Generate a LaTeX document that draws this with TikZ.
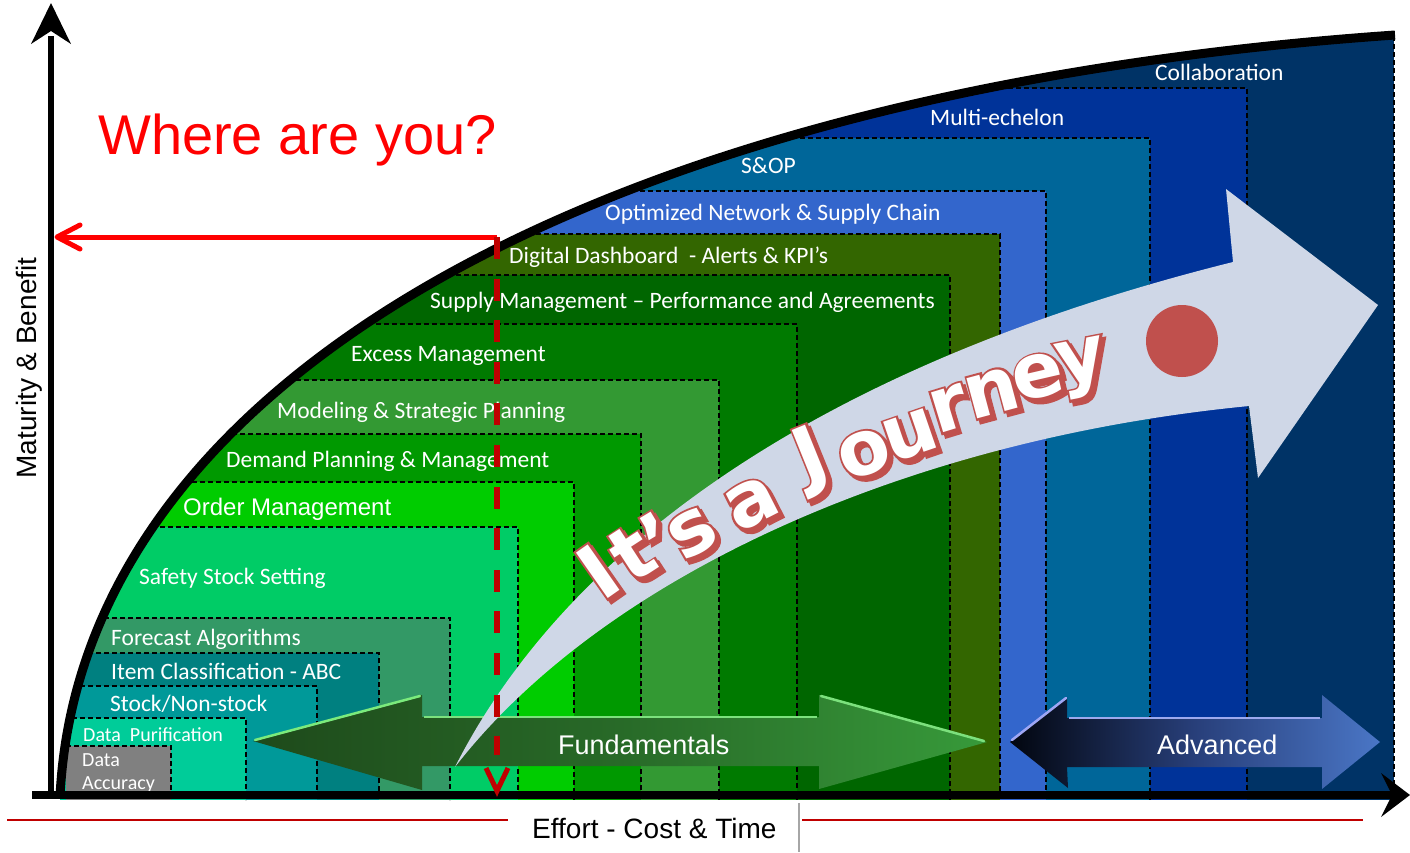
\documentclass[tikz,border=0pt]{standalone}
\usepackage{fontspec}
\setmainfont{Liberation Sans}
\newfontfamily\calib{Carlito}
\newfontface\jfontW{DejaVu Sans Bold}
\newfontface\jfontO{DejaVu Sans Bold}[FakeBold=6]
\definecolor{cCollab}{HTML}{003366}
\definecolor{cMulti}{HTML}{003399}
\definecolor{cSop}{HTML}{006699}
\definecolor{cOpt}{HTML}{3366CC}
\definecolor{cDig}{HTML}{336600}
\definecolor{cSup}{HTML}{006600}
\definecolor{cExc}{HTML}{007A00}
\definecolor{cMod}{HTML}{339933}
\definecolor{cDem}{HTML}{009900}
\definecolor{cOrd}{HTML}{00CC00}
\definecolor{cSaf}{HTML}{00CC66}
\definecolor{cFor}{HTML}{339966}
\definecolor{cItem}{HTML}{008080}
\definecolor{cStock}{HTML}{009999}
\definecolor{cPur}{HTML}{00CC99}
\definecolor{cAcc}{HTML}{808080}
\definecolor{jfill}{HTML}{CFD7E7}
\definecolor{jred}{HTML}{C0504D}
\definecolor{dashred}{HTML}{C00000}
\definecolor{fL}{HTML}{1E4A1B}
\definecolor{fM}{HTML}{286A28}
\definecolor{fR}{HTML}{379A3A}
\definecolor{aL}{HTML}{02060F}
\definecolor{aM}{HTML}{283F7A}
\definecolor{aR}{HTML}{4A76C6}
\tikzset{
  bedge/.style={draw=black, line width=1.3pt, dash pattern=on 5pt off 3pt},
  blbl/.style={text=white, font=\calib\fontsize{23.5}{28}\selectfont, anchor=base west, inner sep=0pt},
  slbl/.style={blbl, font=\calib\fontsize{20}{24}\selectfont},
  olbl/.style={blbl, font=\fontsize{24}{28}\selectfont},
  arrlbl/.style={text=white, font=\fontsize{27}{32}\selectfont, anchor=base west, inner sep=0pt},
  hl/.style={line width=2.5pt, line cap=round},
  jsh/.style={anchor=base, inner sep=0pt, text=jred, font=\jfontO\fontsize{76}{80}\selectfont},
  jin/.style={anchor=base, inner sep=0pt, text=white, font=\jfontW\fontsize{76}{80}\selectfont},
}
% letter of the journey text: name, x, y, rotation, character
\newcommand\jlet[5]{%
  \node[jsh, rotate=#4] (#1s) at (#2+3.5,#3+3.5) {#5};
  \node[jsh, rotate=#4] (#1o) at (#2,#3) {#5};
  \node[jin, rotate=#4] (#1) at (#2,#3) {#5};}
\begin{document}
\begin{tikzpicture}[x=1pt,y=-1pt]
\useasboundingbox (0,0) rectangle (1410,852);
% ---------- bands ----------
\begin{scope}
  \clip (60,797) .. controls (80,380) and (600,90) .. (1395,35) -- (1395,800) -- (60,800) -- cycle;
  \fill[fill=cCollab] (0,0) rectangle (1394,800);
  \draw[bedge] (1394,20) -- (1394,800);
  \foreach \tp/\rp/\cc in {88/1247/cMulti, 138/1150/cSop, 191/1046/cOpt, 234/1000/cDig, 275/950/cSup, 324/797/cExc, 380/719/cMod, 434/641/cDem, 482/574/cOrd, 527/518/cSaf, 618/450/cFor, 653/379/cItem, 686/317/cStock, 718/246/cPur}{
    \fill[fill=\cc] (0,\tp) rectangle (\rp,800);
    \draw[bedge] (0,\tp) -- (\rp,\tp) -- (\rp,800);
  }
  \fill[fill=cAcc] (66,746) rectangle (171,800);
  \draw[bedge] (66,746) -- (171,746) -- (171,800);
\end{scope}
% ---------- band labels ----------
\node (tCollab) [blbl] at (1155,80) {Collaboration};
\node (tMulti) [blbl] at (930,125) {Multi-echelon};
\node (tSop) [blbl] at (741,173) {S\&OP};
\node (tOpt) [blbl] at (605,220) {Optimized Network \& Supply Chain};
\node (tDig) [blbl] at (509,263) {Digital Dashboard\ \ - Alerts \& KPI’s};
\node (tSup) [blbl] at (430,308) {Supply Management – Performance and Agreements};
\node (tExc) [blbl] at (351,361) {Excess Management};
\node (tMod) [blbl] at (277,418) {Modeling \& Strategic Planning};
\node (tDem) [blbl] at (226,467) {Demand Planning \& Management};
\node (tOrd) [olbl] at (183,515) {Order Management};
\node (tSaf) [blbl] at (139,584) {Safety Stock Setting};
\node (tFor) [blbl] at (111,645) {Forecast Algorithms};
\node (tItem) [blbl] at (111,679) {Item Classification - ABC};
\node (tStock) [blbl] at (110,711) {Stock/Non-stock};
\node (tPur) [slbl] at (83,741) {Data\ \ Purification};
\node (tDat) [slbl] at (82,766) {Data};
\node (tAcc) [slbl] at (82,789) {Accuracy};
% ---------- Fundamentals arrow ----------
\shade[left color=fL, right color=fR, middle color=fM]
  (253,741) -- (422,695) -- (422,717) -- (819,717) -- (819,695) -- (987,742)
  -- (819,789) -- (819,766) -- (422,766) -- (422,790) -- cycle;
\draw[hl, color=green!45!white!80!fR] (255,740) -- (420,696);
\draw[line width=2pt, color=green!40!white!70!fR] (424,717) -- (817,717);
\draw[hl, color=green!40!white!70!fR] (821,696) -- (984,741);
\node (fund) [arrlbl] at (558,754) {Fundamentals};
% ---------- Advanced arrow ----------
\shade[left color=aL, right color=aR, middle color=aM]
  (1010,742) -- (1067,697) -- (1067,718) -- (1322,718) -- (1322,695) -- (1380,742)
  -- (1322,789) -- (1322,767) -- (1067,767) -- (1068,788) -- cycle;
\draw[hl, color=blue!30!white!80!aR] (1012,740) -- (1066,698);
\draw[line width=2pt, color=blue!25!white!70!aR] (1069,718) -- (1320,718);
\node (adv) [arrlbl] at (1157,754) {Advanced};
% ---------- Journey arrow ----------
\fill[jfill] (455,767) .. controls (560,560) and (800,370) .. (1233,262) -- (1226,189)
  -- (1378,305) -- (1258,478) -- (1249,406) .. controls (900,440) and (600,580) .. (455,767) -- cycle;
\fill[jred] (1182,341) circle[radius=36];
\jlet{jI}{614}{594}{35}{I}
\jlet{jt}{647}{576}{33}{t}
\jlet{jq}{674}{563}{31}{’}
\jlet{js}{703}{551}{30}{s}
\jlet{ja}{761}{522}{27}{a}
\jlet{jJ}{820}{479}{22}{J}
\jlet{jo}{872}{473}{21}{o}
\jlet{ju}{917}{455}{19}{u}
\jlet{jr}{955}{429}{17}{r}
\jlet{jn}{998}{413}{15}{n}
\jlet{je}{1043}{397}{13}{e}
\jlet{jy}{1085}{381}{11}{y}
% ---------- curve ----------
\draw[line width=9pt, black] (60,797) .. controls (80,380) and (600,90) .. (1395,35);
% ---------- axes ----------
\coordinate (org) at (51,795);
\coordinate (ytop) at (51,36);
\coordinate (xleft) at (32,795);
\coordinate (xright) at (1392,795);
\draw[line width=6pt] (org) -- (ytop);
\fill (51,3) -- (71,44) -- (51,31) -- (31,44) -- cycle;
\draw[line width=8pt] (xleft) -- (xright);
\fill (1410,795) -- (1381,773) -- (1392,795) -- (1381,817) -- cycle;
% ---------- red indicator ----------
\coordinate (hit) at (497,237);
\coordinate (yhit) at (57,237);
\coordinate (xhit) at (497,791);
\draw[line width=5pt, red] (hit) -- (yhit);
\draw[line width=5pt, red, line cap=round, line join=round] (yhit) ++(23,-12) -- (yhit) -- ++(23,12);
\draw[line width=6pt, dashred, dash pattern=on 22pt off 19.6pt] (hit) -- (497,755);
\draw[line width=5pt, dashred, line join=miter] (xhit) ++(-11,-23) -- (xhit) -- ++(11,-23);
% ---------- titles ----------
\node (where) [anchor=base west, inner sep=0pt, text=red, font=\fontsize{56}{60}\selectfont] at (98,154) {Where are you?};
\node (ylab) [anchor=base, inner sep=0pt, rotate=90, font=\fontsize{28}{32}\selectfont] at (36,368) {Maturity \& Benefit};
\node (effort) [anchor=base west, inner sep=0pt, font=\fontsize{28}{32}\selectfont] at (532,838) {Effort - Cost \& Time};
\coordinate (rl1) at (7,820);
\coordinate (rl2) at (508,820);
\coordinate (rr1) at (802,820);
\coordinate (rr2) at (1363,820);
\draw[line width=2pt, dashred] (rl1) -- (rl2);
\draw[line width=2pt, dashred] (rr1) -- (rr2);
\coordinate (g1) at (799,803);
\coordinate (g2) at (799,852);
\draw[line width=2pt, black!35] (g1) -- (g2);
\end{tikzpicture}
\end{document}
